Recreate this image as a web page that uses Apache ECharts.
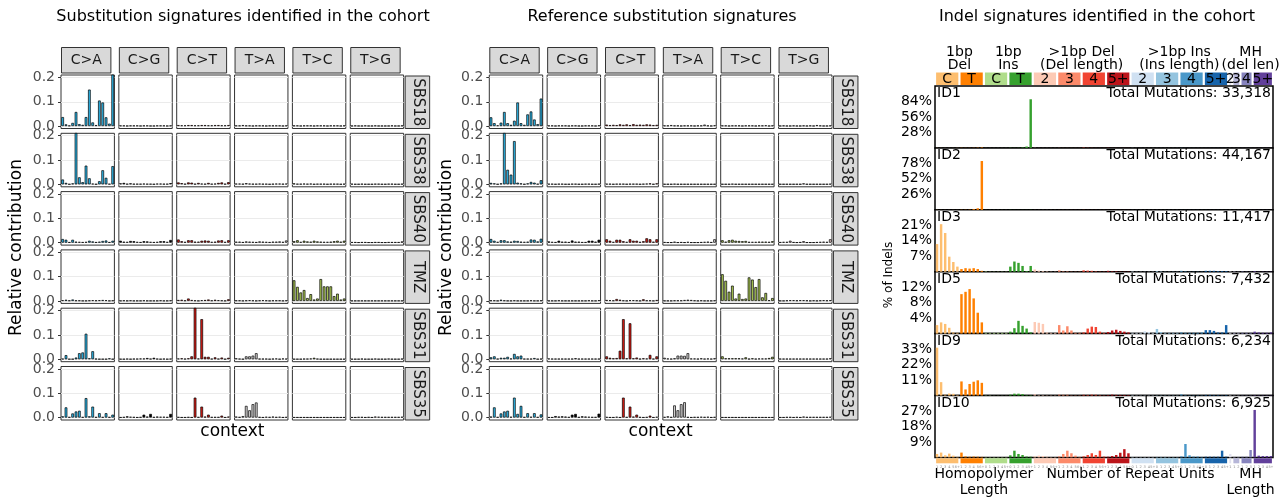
<!DOCTYPE html>
<html><head><meta charset="utf-8">
<script src="https://cdn.jsdelivr.net/npm/echarts@6.0.0/dist/echarts.min.js"></script>
<style>html,body{margin:0;padding:0;background:#fff;}#chart{width:1279px;height:497px;}</style>
</head><body><div id="chart"></div>
<script>
// ---------------- DATA ----------------
const substitutions = ['C>A','C>G','C>T','T>A','T>C','T>G'];
const subColors = ['#2EBAED','#000000','#DE1C14','#D4D2D2','#ADCC54','#F0D0CE'];
const bases = ['A','C','G','T'];
const sbsYTicks = [0, 0.1, 0.2];

const cohortNames = ['SBS18','SBS38','SBS40','TMZ','SBS31','SBS35'];
const refNames = ['SBS18','SBS38','SBS40','TMZ','SBS31','SBS35'];

// cohort (identified) signatures: 6 substitution types x 16 contexts
const cohortSBS18 = [
 [0.037,0.007,0.002,0.013,0.058,0.008,0.005,0.037,0.150,0.015,0.004,0.105,0.097,0.036,0.010,0.240],
 [0.002,0.002,0.001,0.002,0.002,0.002,0.001,0.002,0.002,0.001,0.001,0.002,0.002,0.002,0.001,0.002],
 [0.004,0.003,0.003,0.004,0.004,0.003,0.003,0.004,0.004,0.003,0.003,0.004,0.004,0.003,0.003,0.004],
 [0.002,0.002,0.004,0.002,0.002,0.001,0.002,0.002,0.002,0.001,0.002,0.002,0.002,0.002,0.001,0.002],
 [0.002,0.002,0.001,0.002,0.002,0.002,0.001,0.002,0.002,0.002,0.001,0.002,0.002,0.002,0.001,0.002],
 [0.001,0.002,0.001,0.001,0.002,0.001,0.001,0.002,0.001,0.001,0.001,0.001,0.002,0.001,0.001,0.002]
];
const cohortSBS38 = [
 [0.020,0.006,0.001,0.004,0.260,0.029,0.009,0.077,0.025,0.003,0.001,0.013,0.058,0.027,0.002,0.075],
 [0.004,0.006,0.002,0.004,0.002,0.002,0.002,0.003,0.002,0.002,0.001,0.003,0.003,0.002,0.002,0.005],
 [0.008,0.005,0.002,0.008,0.007,0.002,0.006,0.003,0.002,0.006,0.002,0.003,0.006,0.008,0.002,0.009],
 [0.003,0.003,0.002,0.005,0.003,0.002,0.002,0.003,0.002,0.002,0.001,0.002,0.003,0.003,0.002,0.003],
 [0.004,0.002,0.002,0.003,0.002,0.003,0.001,0.002,0.002,0.002,0.001,0.002,0.002,0.002,0.001,0.002],
 [0.002,0.001,0.001,0.002,0.001,0.001,0.001,0.002,0.002,0.001,0.001,0.002,0.002,0.001,0.001,0.002]
];
const cohortSBS40 = [
 [0.015,0.012,0.002,0.012,0.004,0.003,0.002,0.003,0.008,0.005,0.002,0.004,0.007,0.009,0.002,0.008],
 [0.008,0.004,0.003,0.007,0.006,0.003,0.002,0.006,0.005,0.003,0.002,0.003,0.006,0.006,0.003,0.011],
 [0.013,0.006,0.003,0.010,0.010,0.004,0.004,0.008,0.009,0.008,0.003,0.004,0.009,0.010,0.003,0.010],
 [0.004,0.004,0.002,0.005,0.004,0.003,0.002,0.005,0.004,0.003,0.002,0.004,0.004,0.005,0.003,0.009],
 [0.006,0.010,0.003,0.008,0.005,0.004,0.008,0.005,0.004,0.003,0.003,0.004,0.006,0.008,0.004,0.008],
 [0.002,0.002,0.001,0.002,0.002,0.001,0.001,0.002,0.002,0.001,0.001,0.002,0.002,0.002,0.002,0.005]
];
const cohortTMZ = [
 [0.003,0.005,0.002,0.006,0.002,0.002,0.001,0.001,0.002,0.003,0.002,0.003,0.004,0.003,0.001,0.002],
 [0.001,0.002,0.001,0.002,0.001,0.001,0.001,0.002,0.001,0.001,0.001,0.001,0.002,0.001,0.001,0.002],
 [0.004,0.005,0.002,0.010,0.004,0.002,0.001,0.003,0.004,0.006,0.002,0.005,0.003,0.002,0.001,0.007],
 [0.002,0.002,0.001,0.002,0.003,0.002,0.001,0.002,0.003,0.002,0.001,0.002,0.002,0.002,0.001,0.002],
 [0.085,0.058,0.035,0.045,0.012,0.028,0.006,0.010,0.090,0.060,0.060,0.060,0.020,0.030,0.006,0.010],
 [0.001,0.001,0.001,0.001,0.001,0.001,0.001,0.001,0.001,0.001,0.001,0.001,0.001,0.001,0.001,0.001]
];
const cohortSBS31 = [
 [0.002,0.017,0.001,0.001,0.007,0.025,0.028,0.105,0.004,0.033,0.002,0.001,0.001,0.001,0.004,0.001],
 [0.001,0.001,0.002,0.001,0.002,0.002,0.003,0.003,0.005,0.002,0.006,0.002,0.001,0.002,0.001,0.002],
 [0.003,0.004,0.002,0.004,0.012,0.260,0.003,0.165,0.010,0.010,0.002,0.008,0.002,0.007,0.001,0.006],
 [0.004,0.002,0.001,0.012,0.012,0.015,0.025,0.002,0.002,0.002,0.001,0.002,0.003,0.001,0.003,0.002],
 [0.001,0.001,0.001,0.002,0.002,0.003,0.006,0.002,0.001,0.001,0.001,0.001,0.001,0.001,0.001,0.001],
 [0.001,0.001,0.001,0.002,0.001,0.001,0.001,0.002,0.001,0.001,0.001,0.002,0.001,0.001,0.001,0.002]
];
const cohortSBS35 = [
 [0.005,0.042,0.002,0.017,0.025,0.028,0.002,0.080,0.005,0.045,0.002,0.018,0.002,0.018,0.002,0.012],
 [0.001,0.002,0.005,0.003,0.002,0.001,0.002,0.012,0.004,0.015,0.002,0.004,0.003,0.003,0.002,0.015],
 [0.002,0.001,0.001,0.002,0.001,0.082,0.002,0.045,0.004,0.012,0.002,0.002,0.002,0.008,0.001,0.004],
 [0.004,0.002,0.006,0.048,0.030,0.055,0.062,0.002,0.001,0.003,0.002,0.004,0.002,0.003,0.001,0.002],
 [0.001,0.001,0.001,0.001,0.001,0.001,0.001,0.001,0.001,0.001,0.001,0.001,0.001,0.001,0.001,0.001],
 [0.001,0.001,0.002,0.002,0.001,0.002,0.001,0.004,0.003,0.002,0.002,0.002,0.002,0.002,0.002,0.003]
];

// reference signatures
const refSBS18 = [
 [0.036,0.012,0.003,0.014,0.058,0.012,0.005,0.022,0.097,0.012,0.005,0.048,0.060,0.027,0.008,0.113],
 [0.002,0.002,0.001,0.002,0.002,0.002,0.001,0.002,0.002,0.001,0.001,0.002,0.002,0.002,0.001,0.003],
 [0.006,0.004,0.005,0.004,0.007,0.005,0.007,0.004,0.008,0.005,0.006,0.005,0.007,0.006,0.004,0.005],
 [0.002,0.002,0.004,0.002,0.002,0.001,0.002,0.002,0.002,0.001,0.002,0.002,0.006,0.002,0.001,0.003],
 [0.002,0.002,0.001,0.002,0.002,0.002,0.001,0.002,0.002,0.002,0.001,0.002,0.002,0.003,0.001,0.002],
 [0.001,0.002,0.001,0.001,0.002,0.001,0.001,0.002,0.001,0.002,0.001,0.004,0.002,0.001,0.001,0.002]
];
const refSBS38 = [
 [0.006,0.004,0.001,0.004,0.300,0.060,0.040,0.178,0.007,0.004,0.001,0.004,0.010,0.007,0.002,0.017],
 [0.002,0.002,0.001,0.002,0.002,0.001,0.001,0.002,0.002,0.001,0.001,0.002,0.002,0.001,0.001,0.002],
 [0.002,0.002,0.001,0.002,0.002,0.002,0.001,0.002,0.002,0.002,0.001,0.002,0.003,0.004,0.001,0.004],
 [0.001,0.001,0.001,0.002,0.001,0.001,0.001,0.001,0.001,0.001,0.001,0.001,0.001,0.001,0.001,0.001],
 [0.001,0.001,0.001,0.002,0.001,0.001,0.001,0.001,0.001,0.001,0.001,0.001,0.001,0.001,0.001,0.001],
 [0.001,0.001,0.001,0.001,0.001,0.001,0.001,0.004,0.001,0.001,0.001,0.001,0.001,0.001,0.001,0.002]
];
const refSBS40 = [
 [0.015,0.008,0.003,0.010,0.010,0.005,0.004,0.008,0.007,0.004,0.003,0.004,0.013,0.012,0.005,0.016],
 [0.005,0.003,0.002,0.008,0.004,0.004,0.002,0.009,0.004,0.004,0.002,0.002,0.008,0.008,0.004,0.012],
 [0.014,0.008,0.003,0.012,0.012,0.006,0.003,0.014,0.008,0.008,0.003,0.006,0.018,0.014,0.004,0.014],
 [0.002,0.001,0.001,0.004,0.001,0.002,0.001,0.003,0.001,0.001,0.001,0.002,0.003,0.004,0.002,0.014],
 [0.010,0.004,0.010,0.012,0.008,0.007,0.006,0.007,0.003,0.003,0.003,0.004,0.004,0.004,0.003,0.006],
 [0.002,0.003,0.003,0.008,0.002,0.001,0.002,0.006,0.001,0.001,0.001,0.002,0.003,0.004,0.003,0.014]
];
const refTMZ = [
 [0.002,0.002,0.001,0.005,0.002,0.001,0.001,0.002,0.001,0.001,0.001,0.001,0.002,0.001,0.001,0.002],
 [0.001,0.001,0.001,0.002,0.001,0.001,0.001,0.001,0.001,0.001,0.001,0.001,0.002,0.001,0.001,0.003],
 [0.004,0.003,0.002,0.008,0.005,0.002,0.001,0.003,0.003,0.002,0.001,0.007,0.002,0.002,0.001,0.004],
 [0.001,0.001,0.001,0.002,0.002,0.002,0.004,0.005,0.004,0.002,0.001,0.002,0.001,0.001,0.001,0.002],
 [0.110,0.083,0.038,0.063,0.010,0.030,0.008,0.010,0.097,0.088,0.057,0.090,0.015,0.033,0.003,0.012],
 [0.001,0.001,0.002,0.003,0.003,0.002,0.003,0.003,0.002,0.001,0.002,0.001,0.002,0.003,0.002,0.003]
];
const refSBS31 = [
 [0.008,0.012,0.002,0.006,0.006,0.010,0.003,0.022,0.012,0.015,0.002,0.002,0.002,0.005,0.001,0.002],
 [0.003,0.002,0.002,0.002,0.002,0.002,0.002,0.002,0.004,0.002,0.002,0.002,0.002,0.002,0.002,0.002],
 [0.012,0.006,0.004,0.005,0.035,0.165,0.004,0.148,0.004,0.007,0.002,0.004,0.003,0.018,0.002,0.012],
 [0.006,0.003,0.002,0.004,0.015,0.015,0.014,0.025,0.003,0.003,0.002,0.004,0.002,0.003,0.002,0.004],
 [0.012,0.004,0.004,0.004,0.004,0.004,0.003,0.008,0.002,0.004,0.002,0.003,0.003,0.003,0.005,0.010],
 [0.002,0.002,0.002,0.002,0.002,0.002,0.002,0.002,0.002,0.002,0.002,0.002,0.002,0.002,0.002,0.004]
];
const refSBS35 = [
 [0.004,0.042,0.002,0.017,0.025,0.028,0.003,0.082,0.015,0.048,0.002,0.018,0.003,0.018,0.002,0.013],
 [0.001,0.001,0.006,0.004,0.005,0.004,0.002,0.012,0.015,0.002,0.005,0.004,0.003,0.002,0.002,0.016],
 [0.002,0.001,0.001,0.003,0.001,0.082,0.002,0.045,0.004,0.012,0.002,0.001,0.002,0.008,0.001,0.003],
 [0.002,0.005,0.002,0.050,0.030,0.055,0.063,0.002,0.001,0.002,0.002,0.003,0.002,0.003,0.001,0.002],
 [0.001,0.001,0.001,0.001,0.001,0.001,0.001,0.001,0.001,0.001,0.001,0.001,0.001,0.001,0.001,0.001],
 [0.001,0.001,0.002,0.002,0.001,0.002,0.001,0.004,0.002,0.002,0.002,0.002,0.002,0.002,0.002,0.003]
];
const cohortData = [cohortSBS18, cohortSBS38, cohortSBS40, cohortTMZ, cohortSBS31, cohortSBS35];
const refData = [refSBS18, refSBS38, refSBS40, refTMZ, refSBS31, refSBS35];

// ---------- indel signatures (% of indels, 83 channels) ----------
const indelNames = ['ID1','ID2','ID3','ID5','ID9','ID10'];
const indelTotals = ['33,318','44,167','11,417','7,432','6,234','6,925'];
const indelTicks = [[28,56,84],[26,52,78],[7,14,21],[4,8,12],[11,22,33],[9,18,27]];
const groupLabels = ['C','T','C','T','2','3','4','5+','2','3','4','5+','2','3','4','5+'];
const groupSizes  = [6,6,6,6,6,6,6,6,6,6,6,6,1,2,3,5];
const groupColors = ['#FDBE6F','#FF8001','#B0DD8B','#36A12E','#FDCAB5','#FC8A6A','#F14432','#BC141A',
                     '#D0E1F2','#94C4DF','#4A98C9','#1764AB','#E2E2EF','#B6B6D8','#8683BD','#62409B'];
const groupTickLabels = [
 ['1','2','3','4','5','6+'],['1','2','3','4','5','6+'],['0','1','2','3','4','5+'],['0','1','2','3','4','5+'],
 ['1','2','3','4','5','6+'],['1','2','3','4','5','6+'],['1','2','3','4','5','6+'],['1','2','3','4','5','6+'],
 ['0','1','2','3','4','5+'],['0','1','2','3','4','5+'],['0','1','2','3','4','5+'],['0','1','2','3','4','5+'],
 ['1'],['1','2'],['1','2','3'],['1','2','3','4','5+']];
const headerTop = [['1bp','Del'],['1bp','Ins'],['>1bp Del','(Del length)'],['>1bp Ins','(Ins length)'],['MH','(del len)']];
const headerSpans = [[0,1],[2,3],[4,7],[8,11],[12,15]];
const footerText = [['Homopolymer','Length'],['Number of Repeat Units'],['MH','Length']];
const footerSpans = [[0,3],[4,11],[12,15]];

const ID1 = [
 0.2,0.1,0.1,0.1,0.1,0.2,  0.3,0.2,0.2,0.3,0.5,0.8,
 0.1,0.1,0.1,0.1,0.1,0.1,  0.4,0.2,0.3,0.8,2.5,88,
 0.3,0.1,0.1,0.1,0.1,0.1,  0.2,0.1,0.1,0.1,0.1,0.1,  0.6,0.3,0.2,0.1,0.1,0.1,  0.3,0.1,0.1,0.1,0.1,0.1,
 0.2,0.1,0.1,0.1,0.1,0.1,  0.1,0.1,0.1,0.1,0.1,0.1,  0.2,0.1,0.1,0.1,0.1,0.1,  0.1,0.1,0.1,0.1,0.1,0.1,
 0.1, 0.1,0.1, 0.1,0.1,0.1, 0.1,0.1,0.1,0.1,0.1];
const ID2 = [
 0.2,0.1,0.1,0.1,0.1,0.1,  0.3,0.3,0.4,1.2,2.6,82,
 0.1,0.1,0.1,0.1,0.1,0.1,  0.2,0.1,0.1,0.1,0.1,0.2,
 0.1,0.1,0.1,0.1,0.1,0.1,  0.1,0.1,0.1,0.1,0.1,0.1,  0.2,0.1,0.1,0.1,0.1,0.1,  0.1,0.1,0.1,0.1,0.1,0.1,
 0.1,0.1,0.1,0.1,0.1,0.1,  0.1,0.1,0.1,0.1,0.1,0.1,  0.1,0.1,0.1,0.1,0.1,0.1,  0.1,0.1,0.1,0.1,0.1,0.1,
 0.1, 0.1,0.1, 0.1,0.1,0.1, 0.1,0.1,0.1,0.1,0.1];
const ID3 = [
 12.5,21.5,17.5,6.8,4.4,2.3,  1.2,1.6,1.4,1.6,1.2,0.4,
 0.2,0.1,0.1,0.1,0.1,0.1,  2.3,4.6,4.0,2.6,0.3,2.6,
 1.0,0.5,0.3,0.2,0.1,0.1,  0.6,0.2,0.2,0.1,0.1,0.1,  0.6,0.5,0.4,0.2,0.1,0.1,  0.4,0.2,0.2,0.1,0.1,0.1,
 0.2,0.1,0.1,0.1,0.1,0.1,  0.3,0.2,0.1,0.1,0.1,0.1,  0.4,0.2,0.1,0.1,0.1,0.1,  0.4,0.4,0.4,0.3,0.3,0.3,
 0.2, 0.2,0.1, 0.2,0.1,0.1, 0.3,0.1,0.1,0.1,0.1];
const ID5 = [
 2.2,2.9,2.5,1.5,0.3,0.2,  10.2,10.8,11.5,9.1,5.4,2.9,
 0.2,0.2,0.2,0.2,0.2,0.2,  0.5,1.4,3.3,2.0,1.3,0.3,
 3.0,2.8,2.5,0.3,0.2,0.2,  2.2,0.8,1.9,0.8,0.2,0.2,  0.3,1.3,1.8,1.7,0.5,0.2,  0.4,0.8,1.0,0.7,0.5,0.3,
 0.2,0.2,0.2,0.6,0.4,0.2,  1.2,0.4,0.2,0.2,0.2,0.2,  0.3,0.2,0.2,0.2,0.2,0.3,  0.9,0.9,0.7,0.3,0.3,2.2,
 0.2, 0.2,0.2, 0.2,0.2,0.2, 0.5,0.3,0.2,0.2,0.3];
const ID9 = [
 34,9.5,0.6,1.4,1.2,0.4,  10,4.3,8.2,9.8,10.8,9.0,
 0.2,0.2,0.1,0.1,0.1,0.1,  0.6,1.3,1.3,1.0,0.3,0.3,
 0.8,0.3,0.3,0.2,0.2,0.2,  0.6,0.5,0.5,0.2,0.2,0.2,  0.5,0.4,0.6,0.5,0.3,0.2,  0.3,0.6,0.4,0.4,0.4,0.3,
 0.3,0.2,0.2,0.2,0.2,0.2,  0.2,0.2,0.2,0.2,0.2,0.2,  0.8,0.3,0.2,0.2,0.2,0.2,  0.4,0.4,0.3,0.3,0.2,0.3,
 0.3, 0.2,0.2, 0.2,0.2,0.2, 0.3,0.2,0.2,0.2,0.2];
const ID10 = [
 2.0,2.8,1.2,2.2,1.0,0.3,  2.8,0.6,0.4,0.5,0.4,0.3,
 0.2,0.2,0.2,0.2,0.2,0.2,  1.2,3.9,2.0,1.4,0.5,0.4,
 0.6,1.0,0.8,0.4,0.2,0.2,  0.6,2.0,3.9,2.4,1.0,0.3,  0.6,1.4,2.4,1.4,3.9,0.5,  0.4,0.8,1.4,2.7,4.8,2.4,
 0.3,0.2,0.2,0.2,0.2,0.2,  0.3,0.3,0.3,0.2,0.2,0.2,  0.6,7.8,1.2,0.5,0.5,0.3,  0.4,0.4,0.4,0.4,3.9,0.4,
 2.0, 0.3,0.3, 0.4,0.4,4.3, 27.6,1.0,0.8,0.8,0.8];
const indelData = [ID1, ID2, ID3, ID5, ID9, ID10];

// ---------------- BUILD ----------------
const FONT = 'DejaVu Sans';
const chart = echarts.init(document.getElementById('chart'));
const grids = [], xAxes = [], yAxes = [], series = [], graphics = [];

function contextsFor(c) {
  const out = [];
  bases.forEach(a => bases.forEach(b => out.push(a + '[' + substitutions[c] + ']' + b)));
  return out;
}
function txt(text, x, y, size, opts) {
  opts = opts || {};
  return {type: 'text', x: x, y: y, rotation: opts.rotation || 0, z: 100, silent: true,
    style: {text: text, x: 0, y: 0, align: opts.align || 'center', verticalAlign: 'middle',
      fill: opts.color || '#000', font: (opts.weight || 'normal') + ' ' + size + 'px "' + FONT + '"'}};
}

const COLW = 53.4, COLSTEP = 57.85, ROWTOP = 75, ROWSTEP = 58.3, ROWH = 53.5;

function addSbsPanel(x0, names, data, title, titleX, axisTitleX) {
  names.forEach((name, r) => {
    substitutions.forEach((sub, c) => {
      const gi = grids.length;
      const left = x0 + c * COLSTEP, top = ROWTOP + r * ROWSTEP;
      grids.push({left: left, top: top, width: COLW, height: ROWH, show: true,
        borderColor: '#333333', borderWidth: 1, backgroundColor: '#ffffff', containLabel: false});
      xAxes.push({gridIndex: gi, type: 'category', data: contextsFor(c),
        axisLine: {show: false}, axisTick: {show: false}, axisLabel: {show: false}, splitLine: {show: false}});
      yAxes.push({gridIndex: gi, type: 'value', min: -0.01, max: 0.21, splitNumber: 5,
        axisLine: {show: false},
        axisTick: {show: c === 0, customValues: sbsYTicks, length: 3, lineStyle: {color: '#333333'}},
        axisLabel: {show: c === 0, customValues: sbsYTicks, formatter: v => v.toFixed(1),
          color: '#4d4d4d', fontSize: 14, fontFamily: FONT, margin: 6},
        splitLine: {show: true, lineStyle: {color: '#ebebeb', width: 1}}});
      series.push({type: 'bar', xAxisIndex: gi, yAxisIndex: gi, data: data[r][c], barWidth: '80%',
        clip: true, silent: true,
        itemStyle: {color: subColors[c], borderColor: '#000000', borderWidth: 0.7}});
    });
    // row strip
    const sx = x0 + 5 * COLSTEP + COLW + 1.5, sy = ROWTOP + r * ROWSTEP + 1;
    graphics.push({type: 'rect', z: 90, silent: true, shape: {x: sx, y: sy, width: 24.5, height: ROWH - 1},
      style: {fill: '#d9d9d9', stroke: '#333333', lineWidth: 1}});
    graphics.push(txt(name, sx + 12.5, sy + (ROWH - 1) / 2, 15, {rotation: -Math.PI / 2, color: '#1a1a1a'}));
  });
  substitutions.forEach((sub, c) => {
    const sx = x0 + c * COLSTEP;
    graphics.push({type: 'rect', z: 90, silent: true, shape: {x: sx + 0.5, y: 47.5, width: COLW - 4, height: 25.5},
      style: {fill: '#d9d9d9', stroke: '#333333', lineWidth: 1}});
    graphics.push(txt(sub, sx + 0.5 + (COLW - 4) / 2, 60.5, 14, {color: '#1a1a1a'}));
  });
  graphics.push(txt(title, titleX, 17, 16));
  graphics.push(txt('Relative contribution', axisTitleX, ROWTOP + (5 * ROWSTEP + ROWH) / 2, 17, {rotation: Math.PI / 2}));
  graphics.push(txt('context', x0 + (5 * COLSTEP + COLW) / 2, 432, 17));
}

addSbsPanel(61, cohortNames, cohortData, 'Substitution signatures identified in the cohort', 243, 17);
addSbsPanel(489.3, refNames, refData, 'Reference substitution signatures', 662, 447);

// ---------- indel panel ----------
const IL = 935, IW = 338, ITOP = 86, ISTEP = 61.9;
const channelColors = [], channelLabels = [], channelGroupStart = [];
let idx = 0;
groupSizes.forEach((n, g) => {
  channelGroupStart.push(idx);
  for (let k = 0; k < n; k++) { channelColors.push(groupColors[g]); channelLabels.push(groupTickLabels[g][k]); idx++; }
});
const NCH = channelColors.length;
const channelCats = channelLabels.map((l, i) => 'ch' + i);

indelNames.forEach((name, r) => {
  const gi = grids.length;
  const top = ITOP + r * ISTEP;
  const step = indelTicks[r][0];
  grids.push({left: IL, top: top, width: IW, height: ISTEP, show: true, borderColor: '#000000', borderWidth: 1.5,
    backgroundColor: '#ffffff'});
  xAxes.push({gridIndex: gi, type: 'category', data: channelCats,
    axisLine: {show: false}, axisTick: {show: false}, axisLabel: {show: false}, splitLine: {show: false}});
  yAxes.push({gridIndex: gi, type: 'value', min: 0, max: step * 4, interval: step,
    axisLine: {show: false}, axisTick: {show: false}, splitLine: {show: false},
    axisLabel: {customValues: indelTicks[r], formatter: v => v + '%', color: '#000', fontSize: 14, fontFamily: FONT, margin: 3}});
  series.push({type: 'bar', xAxisIndex: gi, yAxisIndex: gi, barWidth: '60%', silent: true, clip: true,
    data: indelData[r].map((v, i) => ({value: v, itemStyle: {color: channelColors[i]}}))});
  graphics.push(txt(name, IL + 2, top + 7.5, 14, {align: 'left'}));
  graphics.push(txt('Total Mutations: ' + indelTotals[r], IL + IW - 2, top + 7.5, 14, {align: 'right'}));
});

// category header (top) and footer (bottom) bands, drawn by a custom series on the channel axis
function addBand(top, height, withText, withTicks) {
  const gi = grids.length;
  grids.push({left: IL, top: top, width: IW, height: height, show: false});
  xAxes.push({gridIndex: gi, type: 'category', data: channelCats,
    axisLine: {show: false}, axisTick: {show: false}, splitLine: {show: false},
    axisLabel: withTicks ? {show: true, interval: 0, formatter: (v, i) => channelLabels[i], fontSize: 3.5,
      color: '#888', margin: 2, fontFamily: FONT} : {show: false}});
  yAxes.push({gridIndex: gi, type: 'value', min: 0, max: 1, show: false});
  series.push({type: 'custom', xAxisIndex: gi, yAxisIndex: gi, silent: true,
    data: groupSizes.map((n, g) => [channelGroupStart[g], channelGroupStart[g] + n - 1, g]),
    encode: {x: [0, 1]},
    renderItem: function (params, api) {
      const s = api.value(0), e = api.value(1), g = api.value(2);
      const p0 = api.coord([s, 0.5]), p1 = api.coord([e, 0.5]);
      const bw = api.size([1, 0])[0];
      const cs = params.coordSys;
      const x = p0[0] - bw / 2 + 1.1, w = p1[0] - p0[0] + bw - 2.2;
      const children = [{type: 'rect', shape: {x: x, y: cs.y, width: w, height: cs.height}, style: {fill: groupColors[g]}}];
      if (withText) children.push({type: 'text', style: {text: groupLabels[g], x: x + w / 2, y: cs.y + cs.height / 2 + 0.5,
        align: 'center', verticalAlign: 'middle', fill: '#000', font: '14px "' + FONT + '"'}});
      return {type: 'group', children: children};
    }});
}
addBand(72.5, 12.5, true, false);
addBand(458.3, 5, false, true);

function spanCenter(span) {
  const a = channelGroupStart[span[0]];
  const b = channelGroupStart[span[1]] + groupSizes[span[1]];
  return IL + IW * (a + b) / 2 / NCH;
}
headerTop.forEach((lines, k) => {
  const cx = spanCenter(headerSpans[k]);
  graphics.push(txt(lines[0], cx, 52.5, 14));
  graphics.push(txt(lines[1], cx, 65.5, 14));
});
footerText.forEach((lines, k) => {
  const cx = spanCenter(footerSpans[k]);
  graphics.push(txt(lines[0], cx, 474.5, 14));
  if (lines[1]) graphics.push(txt(lines[1], cx, 490.5, 14));
});
graphics.push(txt('Indel signatures identified in the cohort', 1097, 17, 16));
graphics.push(txt('% of Indels', 889, 275, 12, {rotation: Math.PI / 2}));

chart.setOption({
  animation: false,
  backgroundColor: '#ffffff',
  textStyle: {fontFamily: FONT},
  grid: grids, xAxis: xAxes, yAxis: yAxes, series: series, graphic: graphics
});
</script></body></html>
